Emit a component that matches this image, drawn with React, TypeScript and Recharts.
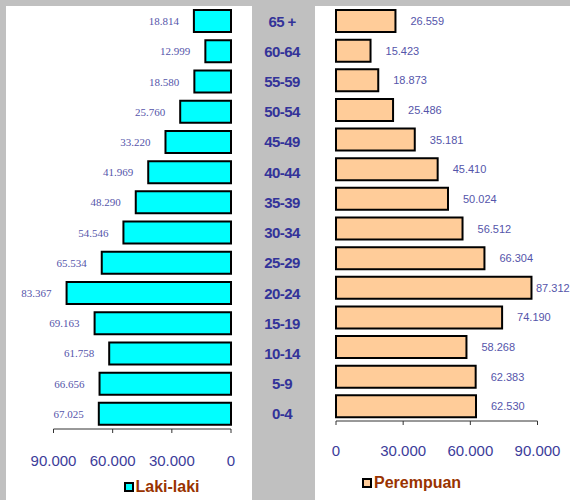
import React from 'react';
import { BarChart, Bar, XAxis, YAxis, LabelList, Legend } from 'recharts';

const ages = ['65 +', '60-64', '55-59', '50-54', '45-49', '40-44', '35-39', '30-34', '25-29', '20-24', '15-19', '10-14', '5-9', '0-4'];
const male = [18814, 12999, 18580, 25760, 33220, 41969, 48290, 54546, 65534, 83367, 69163, 61758, 66656, 67025];
const female = [26559, 15423, 18873, 25486, 35181, 45410, 50024, 56512, 66304, 87312, 74190, 58268, 62383, 62530];
const axisTicks = [0, 30000, 60000, 90000];

const data = ages.map((age, i) => ({ age, male: male[i], female: female[i] }));

const fmt = (v: number) => String(v).replace(/\B(?=(\d{3})+(?!\d))/g, '.');

const SANS = '"Liberation Sans", Arial, sans-serif';
const SERIF = '"Liberation Serif", "Times New Roman", serif';

const RIGHT_W = 255;

const getBox = (p: any) => {
  const vb = p.viewBox || {};
  const x = p.x ?? vb.x;
  const y = p.y ?? vb.y;
  const width = p.width ?? vb.width;
  const height = p.height ?? vb.height;
  return { x: Number(x), y: Number(y), width: Number(width), height: Number(height) };
};

const LeftLabel = (p: any) => {
  const { x, y, width, height } = getBox(p);
  const left = Math.min(x, x + width);
  return (
    <text x={left - 15} y={y + height / 2} textAnchor="end" dominantBaseline="central" fill="#5555aa" fontSize={11} fontFamily={SERIF}>
      {fmt(Number(p.value))}
    </text>
  );
};

const RightLabel = (p: any) => {
  const { x, y, width, height } = getBox(p);
  const right = Math.max(x, x + width);
  const tx = Math.min(right + 15, RIGHT_W - 34);
  return (
    <text x={tx} y={y + height / 2} textAnchor="start" dominantBaseline="central" fill="#5555aa" fontSize={11} fontFamily={SANS}>
      {fmt(Number(p.value))}
    </text>
  );
};

const AgeTick = (p: any) => (
  <text x={p.x} y={p.y} textAnchor="middle" dominantBaseline="central" fill="#333399" fontSize={15} fontWeight="bold" fontFamily={SANS} letterSpacing={-0.6}>
    {p.payload.value}
  </text>
);

const makeLegend = (color: string) => (props: any) => {
  const item = (props.payload && props.payload[0]) || {};
  return (
    <div style={{ display: 'flex', alignItems: 'center', lineHeight: '20px', whiteSpace: 'nowrap' }}>
      <span style={{ display: 'inline-block', boxSizing: 'border-box', width: 10, height: 10, background: color, border: '2px solid #000', marginRight: 2 }} />
      <span style={{ color: '#993300', fontWeight: 'bold', fontSize: 16, fontFamily: SANS }}>{item.value}</span>
    </div>
  );
};

const tickStyle = { fill: '#3c3c9a', fontSize: 15, fontFamily: SANS };

export default function App() {
  return (
    <div style={{ position: 'absolute', left: 0, top: 0, width: 570, height: 500, background: '#C0C0C0', overflow: 'hidden' }}>
      <div style={{ position: 'absolute', left: 6, top: 6, width: 246, height: 494, background: '#fff' }} />
      <div style={{ position: 'absolute', left: 315, top: 6, width: 255, height: 494, background: '#fff' }} />
      <div style={{ position: 'absolute', left: 6, top: 6 }}>
        <BarChart layout="vertical" width={309} height={494} data={data} margin={{ top: 0, right: 0, bottom: 41, left: 47.5 }} barCategoryGap="13.5%">
          <XAxis type="number" domain={[0, 90000]} ticks={axisTicks} interval={0} reversed tickFormatter={fmt} height={30} tickSize={4} tickMargin={22} stroke="#333" tick={tickStyle} />
          <YAxis type="category" dataKey="age" orientation="right" width={84} axisLine={false} tickLine={false} tickSize={0} tickMargin={51} tick={AgeTick} interval={0} />
          <Bar dataKey="male" name="Laki-laki" fill="#00FFFF" stroke="#000" strokeWidth={2} isAnimationActive={false}>
            <LabelList dataKey="male" content={LeftLabel} />
          </Bar>
          <Legend verticalAlign="middle" layout="horizontal" wrapperStyle={{ left: 117.5, top: 471, width: 'auto' }} content={makeLegend('#00FFFF')} />
        </BarChart>
      </div>
      <div style={{ position: 'absolute', left: 315, top: 6 }}>
        <BarChart layout="vertical" width={RIGHT_W} height={494} data={data} margin={{ top: 0, right: 32.5, bottom: 49, left: 21 }} barCategoryGap="13.5%">
          <XAxis type="number" domain={[0, 90000]} ticks={axisTicks} interval={0} tickFormatter={fmt} height={30} tickSize={4} tickMargin={20} stroke="#333" tick={tickStyle} />
          <YAxis type="category" dataKey="age" hide />
          <Bar dataKey="female" name="Perempuan" fill="#FFCC99" stroke="#000" strokeWidth={2} isAnimationActive={false}>
            <LabelList dataKey="female" content={RightLabel} />
          </Bar>
          <Legend verticalAlign="middle" layout="horizontal" wrapperStyle={{ left: 47, top: 467, width: 'auto' }} content={makeLegend('#FFCC99')} />
        </BarChart>
      </div>
    </div>
  );
}
